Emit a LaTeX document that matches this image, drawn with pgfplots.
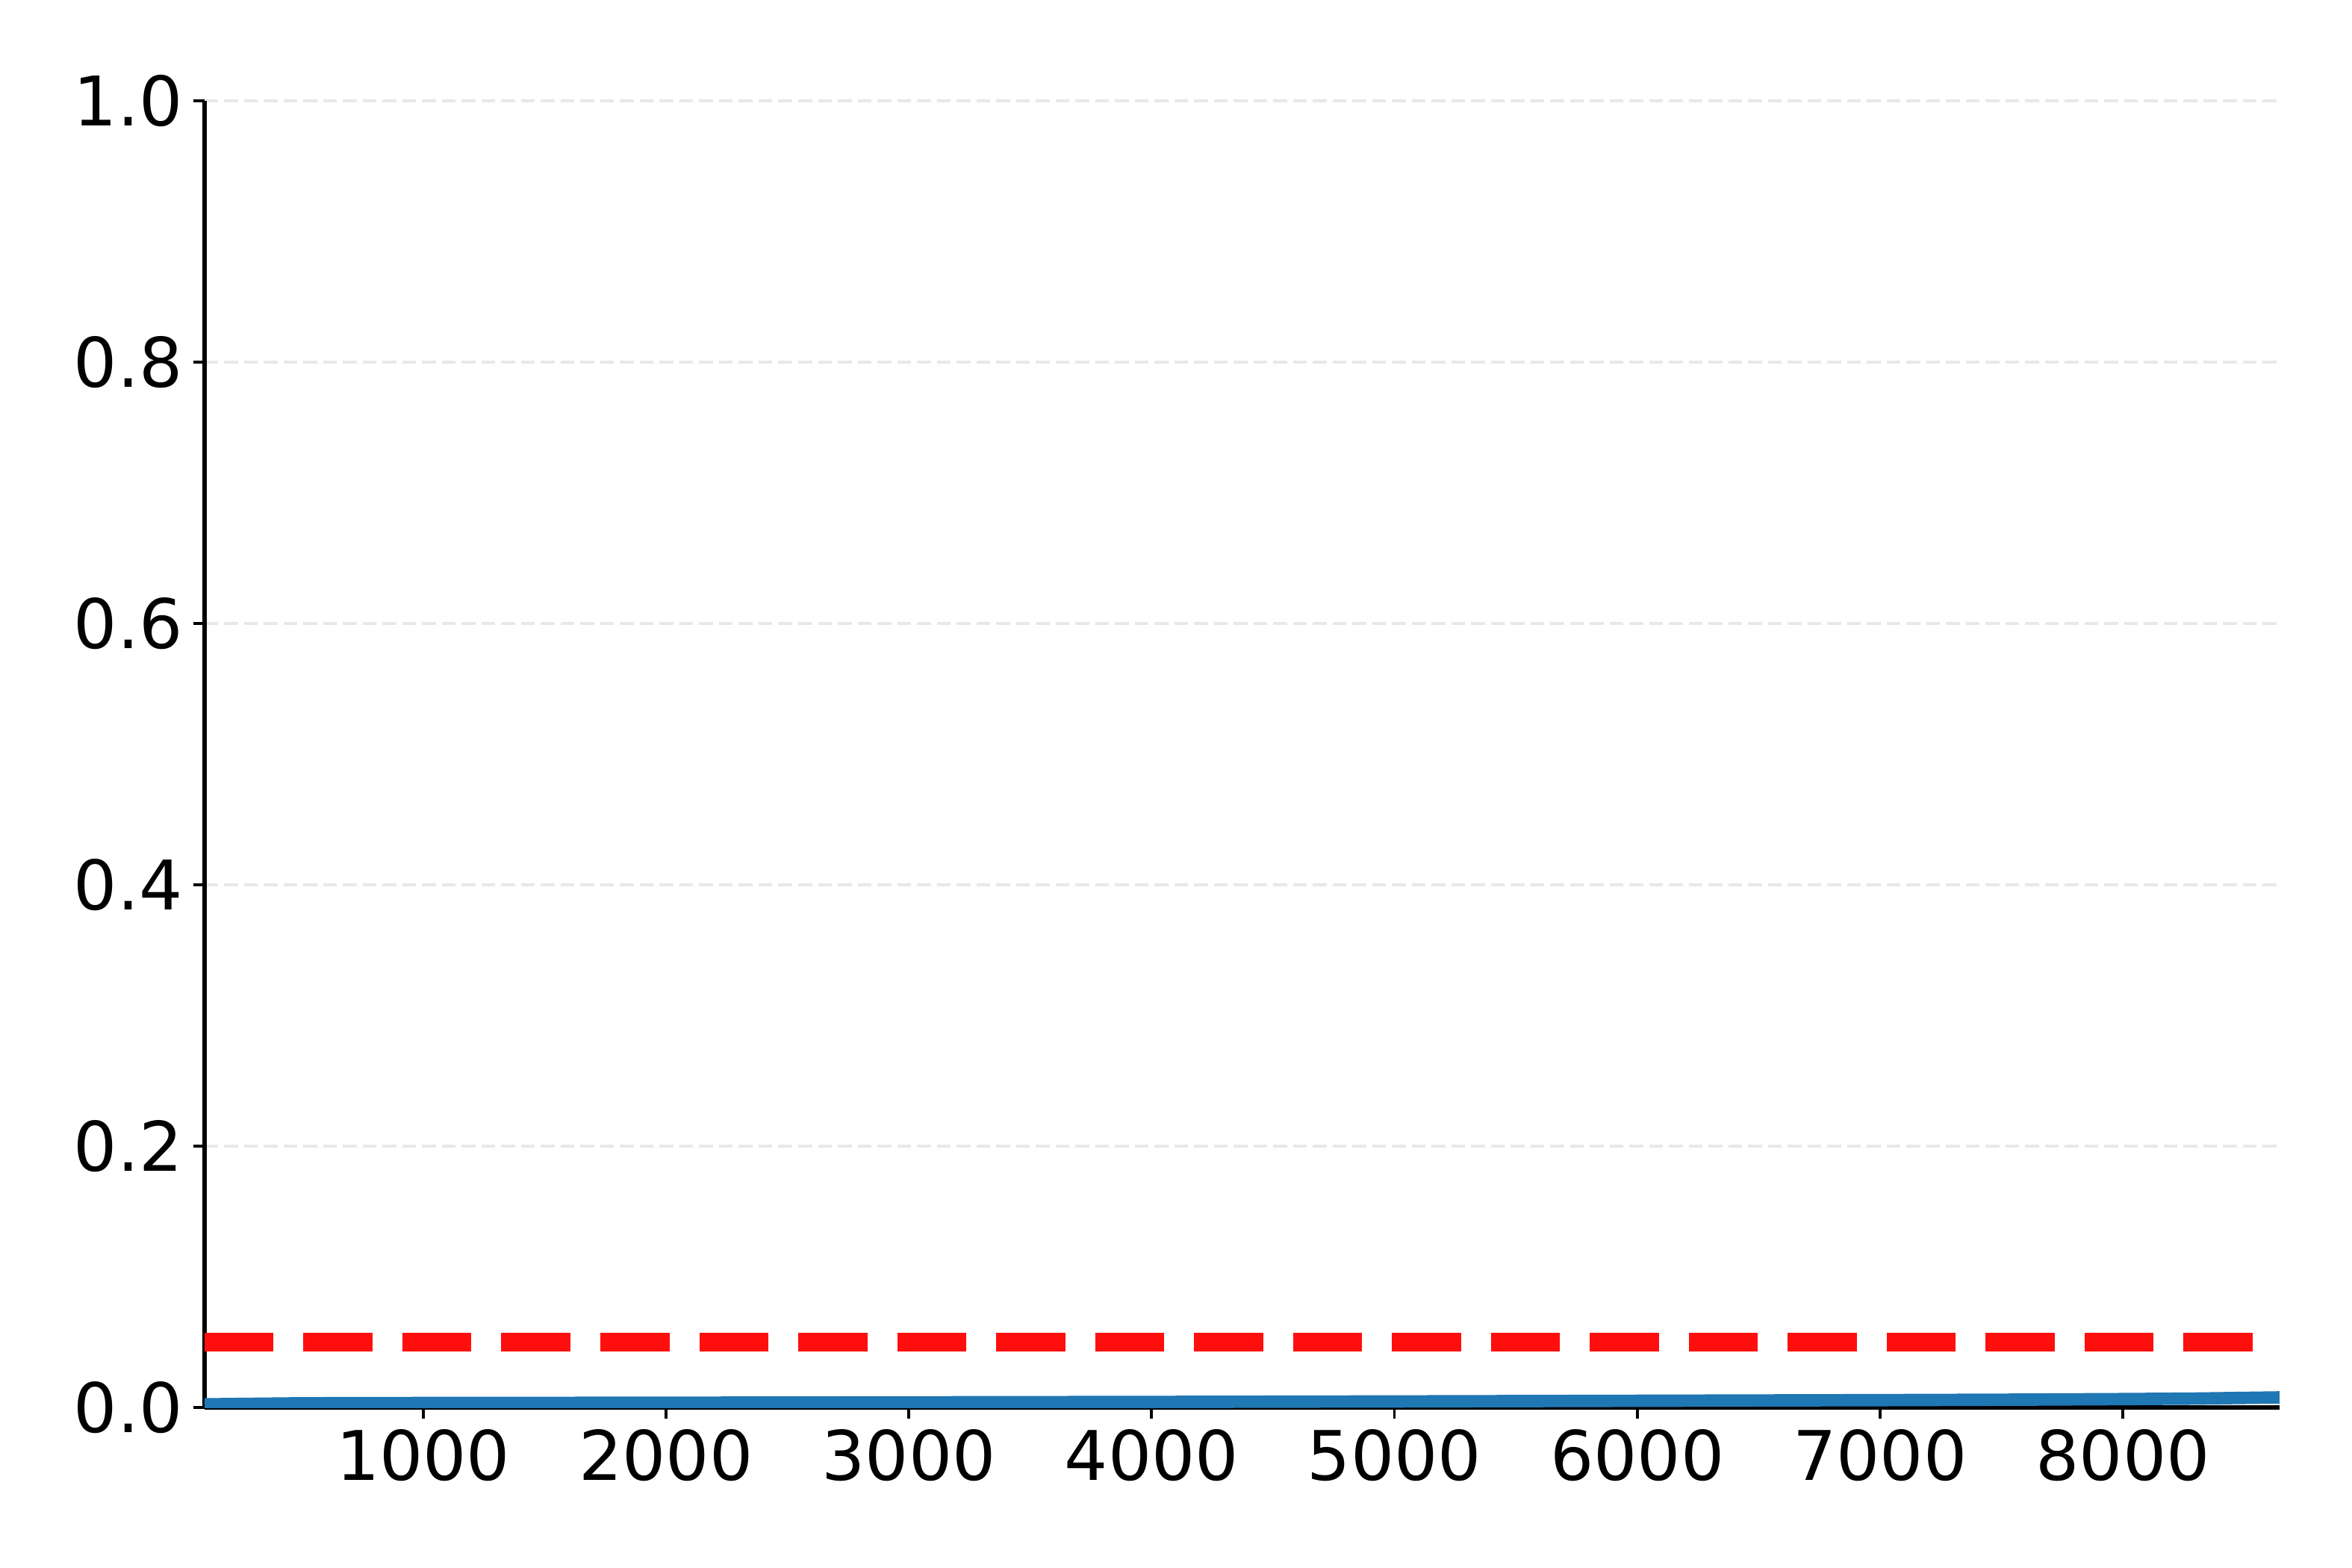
\documentclass[border=0pt]{standalone}
\usepackage{fontspec}
\setmainfont{DejaVu Sans}
\usepackage{pgfplots}
\pgfplotsset{compat=1.18}
\definecolor{mplblue}{HTML}{1F77B4}
\definecolor{mplred}{RGB}{255,14,14}
\definecolor{gridgray}{RGB}{232,232,232}
\begin{document}
\begin{tikzpicture}
\begin{axis}[
  at={(0,0)}, anchor=south west,
  scale only axis,
  width=666.96pt, height=420pt,
  xmin=100, xmax=8645,
  ymin=0, ymax=1,
  axis x line*=bottom,
  axis y line*=left,
  axis line style={-, line width=1.3pt, black},
  xtick={1000,2000,3000,4000,5000,6000,7000,8000},
  ytick={0,0.2,0.4,0.6,0.8,1.0},
  tick align=outside,
  major tick length=3.5pt,
  every tick/.style={black, line width=0.9pt},
  ymajorgrids=true,
  major grid style={gridgray, line width=1pt, dash pattern=on 4.44pt off 1.92pt},
  /pgf/number format/assume math mode=true,
  tick label style={font=\fontsize{22}{26}\selectfont},
  xticklabel style={/pgf/number format/1000 sep={}},
  yticklabel style={/pgf/number format/.cd, fixed, fixed zerofill, precision=1},
  clip=true,
]
\addplot[mplred, line width=6pt, dash pattern=on 22.2pt off 9.6pt] coordinates {(100,0.05) (8645,0.05)};
\addplot[mplblue, line width=4pt, line join=round] coordinates {
(100,0.0024) (300,0.0028) (500,0.0032) (1000,0.0034) (2000,0.0036) (3000,0.0039)
(4000,0.0042) (5000,0.0046) (6000,0.0051) (7000,0.0056) (7600,0.006) (8000,0.0064)
(8300,0.0068) (8645,0.0077)};
\end{axis}
\pgfresetboundingbox
\path (-65.76pt,-51.6pt) rectangle (690.24pt,452.4pt);
\end{tikzpicture}
\end{document}
